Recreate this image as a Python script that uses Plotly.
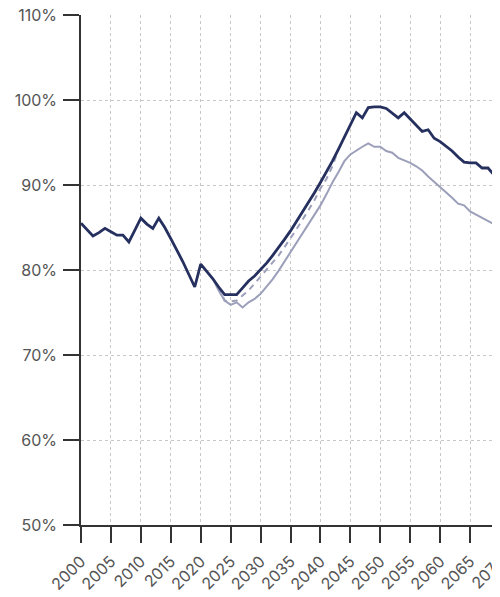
import plotly.graph_objects as go

# Main (historic + baseline projection) series, annual
years_main = list(range(2000, 2071))
main_vals = [
    85.5, 84.7, 84.0, 84.4, 84.9, 84.5, 84.1, 84.1, 83.3, 84.7,   # 2000-2009
    86.1, 85.4, 84.9, 86.1, 85.0, 83.7, 82.4, 81.0, 79.5, 78.0,   # 2010-2019
    80.7, 79.9, 79.0, 78.0, 77.1, 77.1, 77.1, 77.9, 78.7, 79.3,   # 2020-2029
    80.0, 80.8, 81.7, 82.6, 83.6, 84.6, 85.7, 86.8, 87.9, 89.1,   # 2030-2039
    90.3, 91.5, 92.8, 94.2, 95.6, 97.0, 98.5, 97.9, 99.1, 99.2,   # 2040-2049
    99.2, 99.0, 98.4, 97.9, 98.5, 97.8, 97.1, 96.3, 96.5, 95.5,   # 2050-2059
    95.1, 94.6, 94.0, 93.3, 92.7, 92.6, 92.6, 92.0, 92.0, 91.2,   # 2060-2069
    91.2,                                                           # 2070
]

# Lower projection
years_low = list(range(2022, 2071))
low_vals = [
    79.0, 77.6, 76.4, 75.9, 76.2, 75.6, 76.2, 76.6,               # 2022-2029
    77.2, 78.0, 78.9, 79.9, 81.0, 82.1, 83.2, 84.3, 85.4, 86.5,   # 2030-2039
    87.6, 88.9, 90.3, 91.5, 92.8, 93.6, 94.1, 94.5, 94.9, 94.5,   # 2040-2049
    94.5, 94.0, 93.8, 93.2, 92.9, 92.6, 92.2, 91.7, 91.0, 90.4,   # 2050-2059
    89.8, 89.2, 88.5, 87.8, 87.6, 86.9, 86.5, 86.2, 85.8, 85.4,   # 2060-2069
    85.0,                                                           # 2070
]

# Middle (dashed) projection
years_mid = list(range(2023, 2044))
mid_vals = [
    78.0, 76.4, 76.3, 76.4, 77.0, 77.6, 78.4,                     # 2023-2029
    79.2, 80.0, 80.8, 81.7, 82.7, 83.7, 84.8, 85.9, 87.0, 88.2,   # 2030-2039
    89.6, 90.7, 92.2, 94.2,                                         # 2040-2043
]

y_ticks = [50, 60, 70, 80, 90, 100, 110]
x_ticks = list(range(2000, 2071, 5))

DARK = "#26305f"
LIGHT = "#9c9fba"

fig = go.Figure()
fig.add_trace(go.Scatter(x=years_low, y=low_vals, mode="lines",
                         line=dict(color=LIGHT, width=2), hoverinfo="skip"))
fig.add_trace(go.Scatter(x=years_mid, y=mid_vals, mode="lines",
                         line=dict(color=LIGHT, width=2, dash="6px,5px"), hoverinfo="skip"))
fig.add_trace(go.Scatter(x=years_main, y=main_vals, mode="lines",
                         line=dict(color=DARK, width=2.8), hoverinfo="skip"))

axis_font = dict(family="Inter, Roboto, sans-serif", size=16, color="#555555")

fig.update_layout(
    width=492, height=589,
    margin=dict(l=73, r=0, t=7, b=72),
    paper_bgcolor="white", plot_bgcolor="white",
    showlegend=False,
    xaxis=dict(
        range=[2000, 2070], tickvals=x_ticks, ticktext=[str(v) for v in x_ticks],
        tickangle=-45, tickfont=axis_font, ticklabeloverflow="allow",
        ticklabelstandoff=3,
        showline=True, linecolor="#333333", linewidth=1.5,
        ticks="outside", ticklen=16, tickwidth=1.5, tickcolor="#333333",
        showgrid=True, gridcolor="#c8c8c8", gridwidth=1, griddash="3px,3px",
        zeroline=False, automargin=False,
    ),
    yaxis=dict(
        range=[50, 110], tickvals=y_ticks, ticktext=[f"{v}%" for v in y_ticks],
        tickfont=axis_font, ticklabelstandoff=3, ticklabeloverflow="allow",
        showline=True, linecolor="#333333", linewidth=1.5,
        ticks="outside", ticklen=16, tickwidth=1.5, tickcolor="#333333",
        showgrid=True, gridcolor="#c8c8c8", gridwidth=1, griddash="3px,3px",
        zeroline=False, automargin=False,
    ),
)

fig.write_html("out.html")
